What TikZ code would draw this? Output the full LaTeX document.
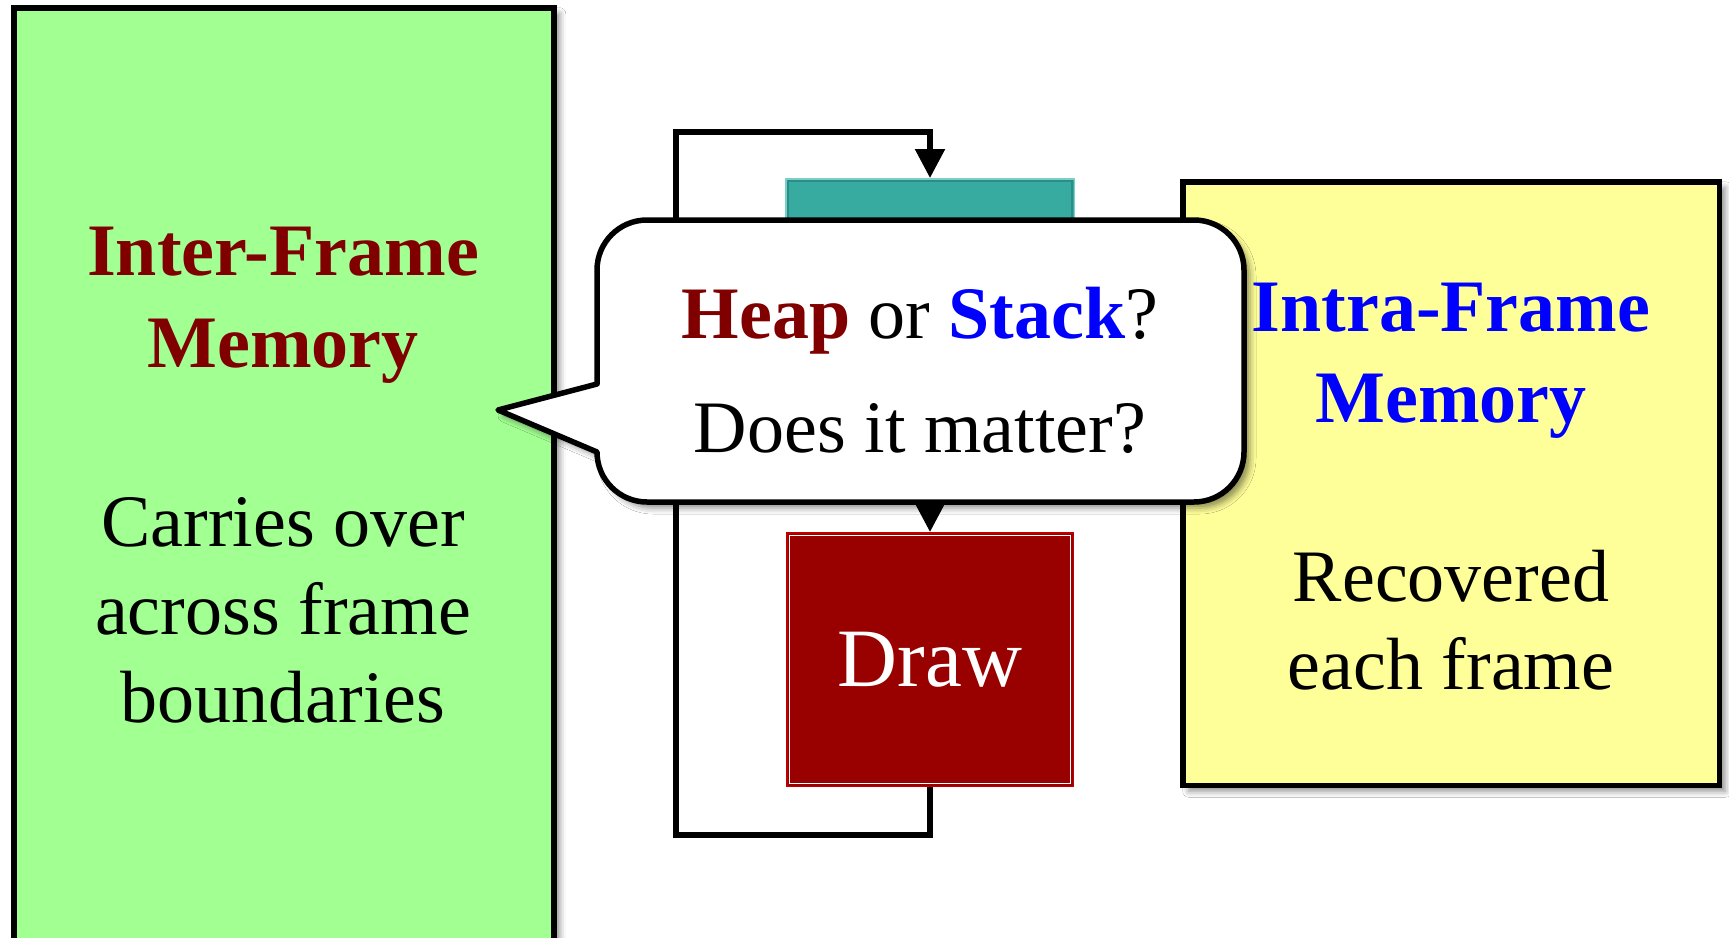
\documentclass[tikz,border=0pt]{standalone}
\usepackage{fontspec}
\setmainfont{Liberation Serif}
\usetikzlibrary{arrows.meta,shadows.blur}
\definecolor{gfill}{HTML}{A2FF92}
\definecolor{yfill}{HTML}{FFFF99}
\definecolor{tealfill}{HTML}{37ABA0}
\definecolor{tealout}{HTML}{7CCFC6}
\definecolor{tealin}{HTML}{2A8E86}
\definecolor{drawfill}{HTML}{990000}
\definecolor{drawout}{HTML}{C00000}
\definecolor{darkred}{HTML}{800000}
\definecolor{pureblue}{HTML}{0000FF}
\newcommand\bigtxt{\fontsize{74pt}{88pt}\selectfont}
\begin{document}
\begin{tikzpicture}[x=1pt,y=-1pt,
  softshadow/.style={blur shadow={shadow xshift=6pt, shadow yshift=-6pt, shadow blur radius=6pt, shadow opacity=45}},
  membox/.style={draw=black, line width=5.5pt, rectangle, anchor=north west, inner sep=0pt, softshadow},
  txt/.style={anchor=base, inner sep=0pt, font=\bigtxt},
  ttl/.style={anchor=base, inner sep=0pt, font={\bigtxt\bfseries}},
  flow/.style={line width=5.5pt, draw=black},
  arrowed/.style={-{Triangle[length=29pt,width=29pt]}},
]
\fill[white] (0,0) rectangle (1729,937);
\clip (0,0) rectangle (1729,937);

% memory boxes
\node[membox, fill=gfill, minimum width=540pt, minimum height=960pt] (inter) at (11,5) {};
\node[membox, fill=yfill, minimum width=536.5pt, minimum height=603.5pt] (intra) at (1180,179) {};

% frame boxes
\node[rectangle, anchor=north west, fill=tealfill, draw=tealout, line width=1.5pt, minimum width=288.5pt, minimum height=130pt, inner sep=0pt] (teal) at (785,178) {};
\draw[tealin, line width=1.5pt] ([shift={(3,3)}]teal.north west) rectangle ([shift={(-3,-3)}]teal.south east);
\node[rectangle, anchor=north west, fill=drawfill, draw=drawout, line width=1.5pt, minimum width=286.5pt, minimum height=253.5pt, inner sep=0pt, text=white, font=\fontsize{83pt}{90pt}\selectfont] (drawbox) at (786,532) {Draw};
\draw[white, line width=1.5pt] ([shift={(3.5,3.5)}]drawbox.north west) rectangle ([shift={(-3.5,-3.5)}]drawbox.south east);

% loop connectors
\coordinate (lb) at (676,835);
\coordinate (lt) at (676,132);
\draw[flow, arrowed] (drawbox.south) |- (lb) -- (lt) -| (teal.north);
\draw[flow, arrowed] (teal.south) -- (drawbox.north);

% texts in memory boxes
\node[ttl, text=darkred] (it1) at (283,275) {Inter-Frame};
\node[ttl, text=darkred] (it2) at (283,367) {Memory};
\node[txt] (ib1) at (283,546) {Carries over};
\node[txt] (ib2) at (283,634) {across frame};
\node[txt] (ib3) at (283,722) {boundaries};

% callout
\draw[line width=5.5pt, fill=white, line join=round, softshadow]
  (597,384) -- (597,270) arc[start angle=180, end angle=270, radius=50]
  -- (1194,220) arc[start angle=270, end angle=360, radius=50]
  -- (1244,452) arc[start angle=0, end angle=90, radius=50]
  -- (647,502) arc[start angle=90, end angle=180, radius=50]
  -- (597,452) -- (498,410) -- cycle;
\node[txt] (q1) at (920,338) {{\bfseries\color{darkred}Heap} or {\bfseries\color{pureblue}Stack}?};
\node[txt] (q2) at (920,452) {Does it matter?};

\node[ttl, text=pureblue] (at1) at (1451,331) {Intra-Frame};
\node[ttl, text=pureblue] (at2) at (1451,422) {Memory};
\node[txt] (ab1) at (1451,601) {Recovered};
\node[txt] (ab2) at (1451,689) {each frame};
\end{tikzpicture}
\end{document}
